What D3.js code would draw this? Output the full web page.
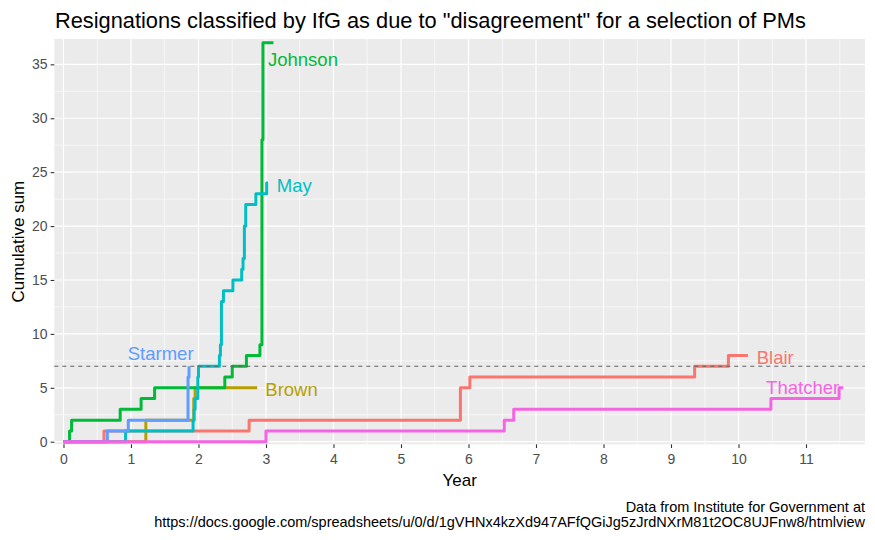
<!DOCTYPE html>
<html>
<head>
<meta charset="utf-8">
<script src="https://cdn.jsdelivr.net/npm/d3@7"></script>
<style>
  body { margin: 0; background: #fff; }
  svg { font-family: "Liberation Sans", Arial, sans-serif; }
</style>
</head>
<body>
<svg id="chart" width="875" height="540"></svg>
<script>
// cumulative resignations by years in office, one pair of arrays per PM
var pms = ["Blair", "Brown", "Johnson", "May", "Starmer", "Thatcher"];
var colours = ["#F8766D", "#B79F00", "#00BA38", "#00BFC4", "#619CFF", "#F564E3"];

var blairX = [0, 0.6, 2.75, 5.88, 6.02, 9.35, 9.85, 10.14];
var blairY = [0, 1, 2, 5, 6, 7, 8, 8];
var brownX = [0, 1.22, 1.93, 1.95, 2.87];
var brownY = [0, 2, 4, 5, 5];
var johnsonX = [0, 0.09, 0.12, 0.84, 1.15, 1.35, 2.39, 2.5, 2.71, 2.91, 2.94, 2.955, 3.11];
var johnsonY = [0, 1, 2, 3, 4, 5, 6, 7, 8, 9, 28, 37, 37];
var mayX = [0, 0.92, 1.92, 1.935, 1.95, 1.99, 2.0, 2.31, 2.325, 2.34, 2.37, 2.51, 2.64, 2.66, 2.68, 2.70, 2.85, 3.01, 3.03];
var mayY = [0, 1, 2, 3, 4, 6, 7, 8, 9, 13, 14, 15, 16, 17, 20, 22, 23, 24, 24];
var starmerX = [0, 0.65, 0.96, 1.845, 1.86];
var starmerY = [0, 1, 2, 6, 7];
var thatcherX = [0, 3.0, 6.53, 6.67, 10.48, 11.49, 11.55];
var thatcherY = [0, 1, 2, 3, 4, 5, 5];

// where each name is written (data units) and how it is anchored
var labelX = [10.27, 2.99, 3.03, 3.16, 1.44, 10.95];
var labelY = [7.86, 4.9, 35.5, 23.8, 8.2, 5.0];
var labelAnchor = ["start", "start", "start", "start", "middle", "middle"];

var refLine = 7;   // Starmer's current total
var xTicks = [0, 1, 2, 3, 4, 5, 6, 7, 8, 9, 10, 11];
var yTicks = [0, 5, 10, 15, 20, 25, 30, 35];

var seriesX = [blairX, brownX, johnsonX, mayX, starmerX, thatcherX];
var seriesY = [blairY, brownY, johnsonY, mayY, starmerY, thatcherY];

var pLeft = 54.3, pRight = 865, pTop = 39, pBottom = 444.3;

var svg = d3.select("#chart");

var x = d3.scaleLinear().domain([-0.136, 11.874]).range([pLeft, pRight]);
var y = d3.scaleLinear().domain([-0.24, 37.35]).range([pBottom, pTop]);

// panel
svg.append("rect")
  .attr("x", pLeft).attr("y", pTop)
  .attr("width", pRight - pLeft).attr("height", pBottom - pTop)
  .attr("fill", "#EBEBEB");

var grid = svg.append("g");
var xMinor = d3.range(0.5, 12, 1);
var yMinor = d3.range(2.5, 38, 5);

grid.selectAll(".xminor").data(xMinor).enter().append("line")
  .attr("x1", function(d) { return x(d); }).attr("x2", function(d) { return x(d); })
  .attr("y1", pTop).attr("y2", pBottom)
  .attr("stroke", "#fff").attr("stroke-width", 0.6);
grid.selectAll(".yminor").data(yMinor).enter().append("line")
  .attr("y1", function(d) { return y(d); }).attr("y2", function(d) { return y(d); })
  .attr("x1", pLeft).attr("x2", pRight)
  .attr("stroke", "#fff").attr("stroke-width", 0.6);
grid.selectAll(".xmajor").data(xTicks).enter().append("line")
  .attr("x1", function(d) { return x(d); }).attr("x2", function(d) { return x(d); })
  .attr("y1", pTop).attr("y2", pBottom)
  .attr("stroke", "#fff").attr("stroke-width", 1.2);
grid.selectAll(".ymajor").data(yTicks).enter().append("line")
  .attr("y1", function(d) { return y(d); }).attr("y2", function(d) { return y(d); })
  .attr("x1", pLeft).attr("x2", pRight)
  .attr("stroke", "#fff").attr("stroke-width", 1.2);

// axes
var xAxis = d3.axisBottom(x).tickValues(xTicks).tickSize(3.7).tickPadding(3);
var yAxis = d3.axisLeft(y).tickValues(yTicks).tickSize(3.7).tickPadding(3);

var gx = svg.append("g").attr("transform", "translate(0," + pBottom + ")").call(xAxis);
var gy = svg.append("g").attr("transform", "translate(" + pLeft + ",0)").call(yAxis);
[gx, gy].forEach(function(g) {
  g.select(".domain").remove();
  g.selectAll(".tick line").attr("stroke", "#333333").attr("stroke-width", 1.1);
  g.selectAll(".tick text").attr("fill", "#4D4D4D")
    .style("font-size", "14px").style("font-family", "Liberation Sans, Arial, sans-serif");
});
gx.selectAll(".tick text").attr("dy", "0.95em");

// step lines
var line = d3.line()
  .x(function(d) { return x(d[0]); })
  .y(function(d) { return y(d[1]); })
  .curve(d3.curveStepAfter);

pms.forEach(function(pm, i) {
  var pts = seriesX[i].map(function(v, j) { return [v, seriesY[i][j]]; });
  svg.append("path")
    .datum(pts)
    .attr("d", line)
    .attr("fill", "none")
    .attr("stroke", colours[i])
    .attr("stroke-width", 3)
    .attr("stroke-linejoin", "round");
});

// reference line
svg.append("line")
  .attr("x1", pLeft).attr("x2", pRight)
  .attr("y1", y(refLine)).attr("y2", y(refLine))
  .attr("stroke", "#5f5f5f").attr("stroke-width", 1)
  .attr("stroke-dasharray", "4,4");

// name labels
pms.forEach(function(pm, i) {
  svg.append("text")
    .attr("x", x(labelX[i])).attr("y", y(labelY[i]))
    .attr("dy", "0.36em")
    .attr("text-anchor", labelAnchor[i])
    .attr("fill", colours[i])
    .style("font-size", "18.5px")
    .text(pm);
});

// titles
svg.append("text")
  .attr("x", 55).attr("y", 28)
  .style("font-size", "21.8px")
  .attr("fill", "#000")
  .text("Resignations classified by IfG as due to \"disagreement\" for a selection of PMs");

svg.append("text")
  .attr("x", (pLeft + pRight) / 2).attr("y", 486)
  .attr("text-anchor", "middle")
  .style("font-size", "17px")
  .text("Year");

svg.append("text")
  .attr("transform", "translate(24," + ((pTop + pBottom) / 2) + ") rotate(-90)")
  .attr("text-anchor", "middle")
  .style("font-size", "17px")
  .text("Cumulative sum");

var caption = ["Data from Institute for Government at",
  "https://docs.google.com/spreadsheets/u/0/d/1gVHNx4kzXd947AFfQGiJg5zJrdNXrM81t2OC8UJFnw8/htmlview"];
svg.selectAll(".caption").data(caption).enter().append("text")
  .attr("x", pRight)
  .attr("y", function(d, i) { return 512 + i * 15; })
  .attr("text-anchor", "end")
  .style("font-size", "14.5px")
  .text(function(d) { return d; });
</script>
</body>
</html>
